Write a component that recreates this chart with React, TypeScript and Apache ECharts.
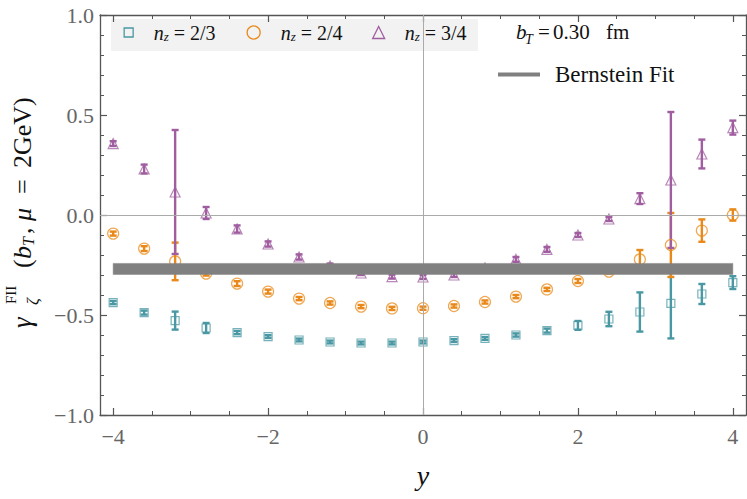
import React, { useEffect, useRef } from 'react';
import * as echarts from 'echarts';

// ---------------- data ----------------
const rapidity = [-4, -3.6, -3.2, -2.8, -2.4, -2, -1.6, -1.2, -0.8, -0.4, 0, 0.4, 0.8, 1.2, 1.6, 2, 2.4, 2.8, 3.2, 3.6, 4];

const nz23Values = [-0.438, -0.488, -0.528, -0.565, -0.588, -0.608, -0.625, -0.635, -0.64, -0.64, -0.635, -0.628, -0.617, -0.6, -0.578, -0.552, -0.52, -0.485, -0.442, -0.395, -0.338];
const nz23Errors = [0.008, 0.01, 0.045, 0.025, 0.008, 0.007, 0.007, 0.007, 0.007, 0.007, 0.007, 0.007, 0.007, 0.008, 0.01, 0.022, 0.036, 0.098, 0.175, 0.05, 0.032];

const nz24Values = [-0.093, -0.168, -0.232, -0.293, -0.343, -0.383, -0.418, -0.44, -0.458, -0.467, -0.466, -0.455, -0.435, -0.408, -0.372, -0.33, -0.283, -0.222, -0.15, -0.078, 0.0];
const nz24Errors = [0.01, 0.012, 0.094, 0.01, 0.012, 0.01, 0.008, 0.008, 0.008, 0.008, 0.008, 0.008, 0.008, 0.008, 0.008, 0.01, 0.01, 0.047, 0.16, 0.056, 0.028];

const nz34Values = [0.357, 0.23, 0.115, 0.01, -0.07, -0.145, -0.21, -0.255, -0.29, -0.308, -0.31, -0.3, -0.265, -0.222, -0.172, -0.1, -0.02, 0.082, 0.175, 0.305, 0.437];
const nz34Errors = [0.012, 0.022, 0.31, 0.03, 0.018, 0.013, 0.013, 0.012, 0.01, 0.01, 0.01, 0.01, 0.012, 0.012, 0.012, 0.01, 0.01, 0.027, 0.34, 0.072, 0.035];

const fitLower = [-0.297, -0.297, -0.297, -0.297, -0.297, -0.297, -0.297, -0.297, -0.297, -0.297, -0.297, -0.297, -0.297, -0.297, -0.297, -0.297, -0.297, -0.297, -0.297, -0.297, -0.297];
const fitUpper = [-0.242, -0.242, -0.242, -0.242, -0.242, -0.242, -0.242, -0.242, -0.242, -0.242, -0.242, -0.242, -0.242, -0.242, -0.242, -0.242, -0.242, -0.242, -0.242, -0.242, -0.242];

const xMajorTicks = [-4, -2, 0, 2, 4];
const xMinorTicks = [-3.5, -3, -2.5, -1.5, -1, -0.5, 0.5, 1, 1.5, 2.5, 3, 3.5];

const seriesNames = ['n_z = 2/3', 'n_z = 2/4', 'n_z = 3/4'];
const fitName = 'Bernstein Fit';

// ---------------- style ----------------
const SERIF = '"Liberation Serif", "Times New Roman", serif';
const TEAL = '#4a98a3';
const ORANGE = '#e8891a';
const PURPLE = '#a05ea0';
const TEAL_L = 'rgba(74,152,163,0.75)';
const ORANGE_L = 'rgba(232,137,26,0.75)';
const PURPLE_L = 'rgba(160,94,160,0.75)';
const FIT = '#808080';
const FRAME = '#555555';
const TICKLABEL = '#666666';

const fmtMinus = (v: number, digits: number) =>
  (v < 0 ? '\u2212' : '') + Math.abs(v).toFixed(digits);

function errorBars(name: string, color: string, values: number[], errs: number[]) {
  return {
    type: 'custom',
    name: name + ' errors',
    xAxisIndex: 0,
    yAxisIndex: 0,
    z: 3,
    data: rapidity.map((x, i) => [x, values[i], errs[i]]),
    encode: { x: 0, y: 1 },
    renderItem: (_p: any, api: any) => {
      const x = api.value(0);
      const y = api.value(1);
      const e = api.value(2);
      const top = api.coord([x, y + e]);
      const bot = api.coord([x, y - e]);
      const hw = 3.5;
      const st = { stroke: color, lineWidth: 2.4 };
      return {
        type: 'group',
        children: [
          { type: 'line', shape: { x1: top[0], y1: top[1], x2: bot[0], y2: bot[1] }, style: st },
          { type: 'line', shape: { x1: top[0] - hw, y1: top[1], x2: top[0] + hw, y2: top[1] }, style: st },
          { type: 'line', shape: { x1: bot[0] - hw, y1: bot[1], x2: bot[0] + hw, y2: bot[1] }, style: st },
        ],
      };
    },
  };
}

function markers(name: string, stroke: string, symbol: string, size: number, values: number[]) {
  return {
    type: 'scatter',
    name,
    xAxisIndex: 0,
    yAxisIndex: 0,
    z: 4,
    symbol,
    symbolSize: size,
    data: rapidity.map((x, i) => [x, values[i]]),
    itemStyle: { color: 'rgba(255,255,255,0)', borderColor: stroke, borderWidth: 1.2, opacity: 1 },
  };
}

const legendRich = {
  n: { fontFamily: SERIF, fontStyle: 'italic', fontSize: 20, color: '#111' },
  z: { fontFamily: SERIF, fontStyle: 'italic', fontSize: 13, color: '#111', padding: [8, 0, 0, 0] },
  t: { fontFamily: SERIF, fontSize: 20, color: '#111' },
};
const legendFormatter = (name: string) => `{n|n}{z|z}{t| = ${name.split('= ')[1]}}`;

function seriesLegend(name: string, stroke: string, icon: string, size: number, cx: number, cy: number, textLeft: number) {
  const pad = textLeft - (cx - size / 2 + size + 5);
  return {
    data: [{ name, icon, itemStyle: { color: 'rgba(0,0,0,0)', borderColor: stroke, borderWidth: 1.3 } }],
    left: cx - size / 2,
    top: cy - 10.5,
    itemWidth: size,
    itemHeight: size,
    padding: 0,
    selectedMode: false,
    formatter: (n: string) => `{p|}` + legendFormatter(n),
    textStyle: { rich: { ...legendRich, p: { width: pad } } },
  };
}

// pieces of the rotated y-axis title (layout only)
const yTitlePieces = [
  { t: '\u03b3', u: 0, ly: -8, size: 27, italic: true },
  { t: 'FII', u: 24, ly: -19, size: 15, italic: false },
  { t: '\u03b6', u: 23, ly: 2, size: 17, italic: true },
  { t: '(', u: 60, ly: -8, size: 26, italic: false },
  { t: 'b', u: 69, ly: -8, size: 26, italic: true },
  { t: 'T', u: 82, ly: -1.5, size: 16, italic: true },
  { t: ',', u: 94, ly: -8, size: 26, italic: false },
  { t: '\u03bc', u: 107, ly: -8, size: 26, italic: true },
  { t: '=', u: 134, ly: -8, size: 26, italic: false },
  { t: '2GeV)', u: 160, ly: -8, size: 26, italic: false },
];

// pieces of the b_T annotation (layout only)
const bTPieces = [
  { t: 'b', x: 516, y: 32, size: 21, italic: true },
  { t: 'T', x: 525, y: 39, size: 14, italic: true },
  { t: '=', x: 538, y: 32, size: 21, italic: false },
  { t: '0.30', x: 553, y: 32, size: 21, italic: false },
  { t: 'fm', x: 606, y: 32, size: 21, italic: false },
];

export default function App() {
  const ref = useRef<HTMLDivElement>(null);

  useEffect(() => {
    if (!ref.current) return;
    const chart = echarts.init(ref.current, undefined, { renderer: 'svg' });

    const baseX = {
      type: 'value',
      min: -4.17,
      max: 4.17,
      splitLine: { show: false },
      axisLine: { show: true, onZero: false, lineStyle: { color: FRAME, width: 1.3 } },
    };
    const baseY = {
      type: 'value',
      min: -1,
      max: 1,
      interval: 0.5,
      splitLine: { show: false },
      axisLine: { show: true, onZero: false, lineStyle: { color: FRAME, width: 1.3 } },
      axisTick: { show: true, inside: true, length: 7, lineStyle: { color: FRAME, width: 1.2 } },
      minorTick: { show: true, splitNumber: 5, length: 4, lineStyle: { color: FRAME, width: 1 } },
    };

    const fitRows = rapidity.map((x, i) => [x, fitLower[i], fitUpper[i]]);

    const option: any = {
      animation: false,
      backgroundColor: '#ffffff',
      grid: { left: 100, right: 1, top: 15, bottom: 84, containLabel: false },
      xAxis: [
        {
          ...baseX,
          position: 'bottom',
          name: 'y',
          nameLocation: 'middle',
          nameGap: 46,
          nameTextStyle: { fontFamily: SERIF, fontStyle: 'italic', fontSize: 28, color: '#111' },
          axisTick: { show: true, inside: true, length: 7, customValues: xMajorTicks, lineStyle: { color: FRAME, width: 1.2 } },
          axisLabel: {
            show: true,
            customValues: xMajorTicks,
            margin: 10,
            fontFamily: SERIF,
            fontSize: 22,
            color: TICKLABEL,
            formatter: (v: number) => fmtMinus(v, 0),
          },
        },
        {
          ...baseX,
          position: 'bottom',
          axisLine: { show: false, onZero: false },
          axisTick: { show: true, inside: true, length: 4, customValues: xMinorTicks, lineStyle: { color: FRAME, width: 1 } },
          axisLabel: { show: false },
        },
        {
          ...baseX,
          position: 'top',
          axisTick: { show: true, inside: true, length: 7, customValues: xMajorTicks, lineStyle: { color: FRAME, width: 1.2 } },
          axisLabel: { show: false },
        },
        {
          ...baseX,
          position: 'top',
          axisLine: { show: false, onZero: false },
          axisTick: { show: true, inside: true, length: 4, customValues: xMinorTicks, lineStyle: { color: FRAME, width: 1 } },
          axisLabel: { show: false },
        },
      ],
      yAxis: [
        {
          ...baseY,
          position: 'left',
          axisLabel: {
            show: true,
            margin: 6,
            fontFamily: SERIF,
            fontSize: 22,
            color: TICKLABEL,
            formatter: (v: number) => fmtMinus(v, 1),
          },
        },
        {
          ...baseY,
          position: 'right',
          axisLabel: { show: false },
        },
      ],
      legend: [
        seriesLegend(seriesNames[0], TEAL, 'rect', 9, 128, 33, 153),
        seriesLegend(seriesNames[1], ORANGE, 'circle', 13, 253, 33, 280),
        seriesLegend(seriesNames[2], PURPLE, 'triangle', 12, 378, 33, 404),
        {
          data: [{ name: fitName, icon: 'rect', itemStyle: { color: FIT } }],
          left: 498,
          top: 63,
          itemWidth: 42,
          itemHeight: 4,
          padding: 0,
          selectedMode: false,
          formatter: '{p|}{a|{name}}',
          textStyle: { rich: { p: { width: 10 }, a: { fontFamily: SERIF, fontSize: 23, color: '#111' } } },
        },
      ],
      graphic: [
        { type: 'rect', z: 0, silent: true, shape: { x: 111, y: 19, width: 367, height: 32 }, style: { fill: '#f2f2f2' } },
        {
          type: 'group',
          x: 30,
          y: 328,
          rotation: Math.PI / 2,
          children: yTitlePieces.map((p) => ({
            type: 'text',
            x: p.u,
            y: p.ly,
            style: {
              text: p.t,
              font: `${p.italic ? 'italic ' : ''}${p.size}px ${SERIF}`,
              fill: '#111',
              textAlign: 'left',
              align: 'left',
              textVerticalAlign: 'middle',
              verticalAlign: 'middle',
            },
          })),
        },
        ...bTPieces.map((p) => ({
          type: 'text',
          x: p.x,
          y: p.y,
          style: {
            text: p.t,
            font: `${p.italic ? 'italic ' : ''}${p.size}px ${SERIF}`,
            fill: '#111',
            textVerticalAlign: 'middle',
            verticalAlign: 'middle',
          },
        })),
      ],
      series: [
        {
          ...markers(seriesNames[0], TEAL_L, 'rect', 8, nz23Values),
          markLine: {
            silent: true,
            symbol: ['none', 'none'],
            label: { show: false },
            lineStyle: { color: '#aaaaaa', width: 1, type: 'solid' },
            data: [{ xAxis: 0 }, { yAxis: 0 }],
          },
        },
        markers(seriesNames[1], ORANGE_L, 'circle', 11, nz24Values),
        markers(seriesNames[2], PURPLE_L, 'triangle', 10, nz34Values),
        errorBars(seriesNames[0], TEAL, nz23Values, nz23Errors),
        errorBars(seriesNames[1], ORANGE, nz24Values, nz24Errors),
        errorBars(seriesNames[2], PURPLE, nz34Values, nz34Errors),
        {
          type: 'custom',
          name: fitName,
          xAxisIndex: 0,
          yAxisIndex: 0,
          z: 6,
          itemStyle: { color: FIT },
          data: fitRows,
          encode: { x: 0, y: [1, 2] },
          renderItem: (params: any, api: any) => {
            if (params.dataIndex !== 0) return null;
            const upper = fitRows.map((r) => api.coord([r[0], r[2]]));
            const lower = fitRows.map((r) => api.coord([r[0], r[1]])).reverse();
            return {
              type: 'polygon',
              shape: { points: upper.concat(lower) },
              style: { fill: FIT, stroke: FIT, lineWidth: 0.5 },
            };
          },
        },
      ],
    };

    chart.setOption(option);
    return () => chart.dispose();
  }, []);

  return <div ref={ref} style={{ position: 'absolute', left: 0, top: 0, width: 747, height: 499 }} />;
}
